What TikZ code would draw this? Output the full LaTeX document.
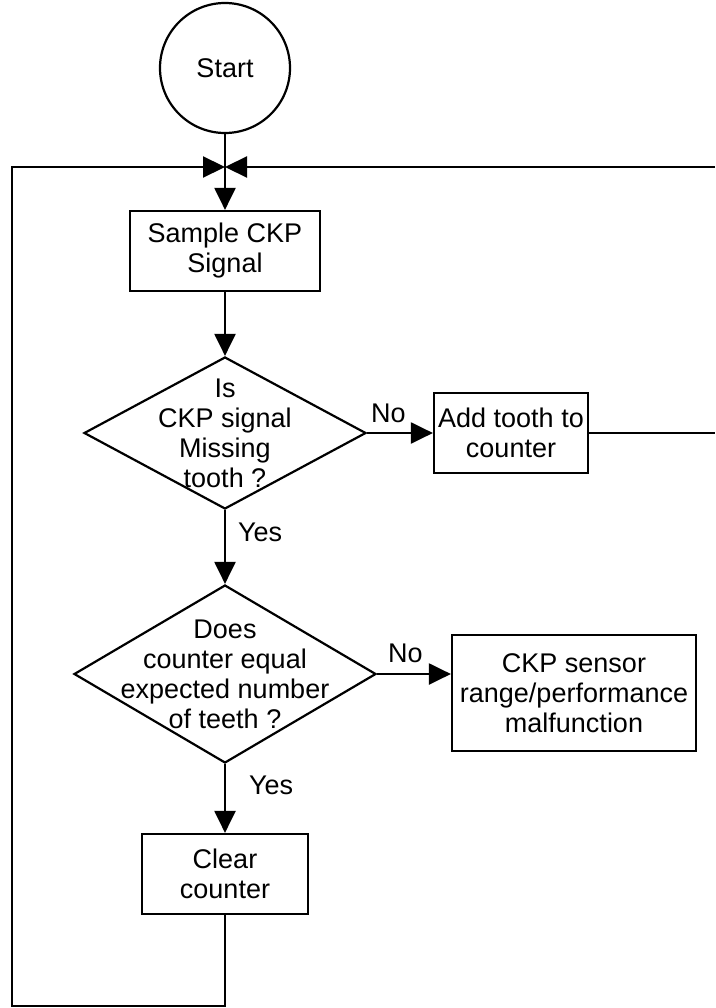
\documentclass[tikz,border=0pt]{standalone}
\usepackage{fontspec}
\setmainfont{Liberation Sans}
\usetikzlibrary{shapes.geometric,arrows.meta}

\begin{document}
\begin{tikzpicture}[x=1pt, y=-1pt, line width=2.2pt,
		font=\fontsize{27}{30}\selectfont,
		block/.style={draw, rectangle, minimum height=80pt, inner sep=0pt, align=center},
		decision/.style={draw, diamond, inner sep=-40pt, align=center},
		lbl/.style={anchor=west, inner sep=0pt},
		arr/.style={-{Triangle[length=22pt, width=21pt]}}]
			\useasboundingbox (0, 0) rectangle (715, 1008);

			\draw (225, 68) 	node[draw, circle, minimum size=130pt, inner sep=0pt] 	(start) 	{Start};
			\draw (225, 251) 	node[block, minimum width=190pt] 	(sample) 	{Sample CKP\\Signal};
			\draw (225, 433) 	node[decision, minimum width=282pt, minimum height=152pt] 	(missing) 	{Is\\CKP signal\\Missing\\tooth ?};
			\draw (511, 433) 	node[block, minimum width=154pt] 	(addtooth) 	{Add tooth to\\counter};
			\draw (225, 674) 	node[decision, minimum width=302pt, minimum height=178pt] 	(equal) 	{Does\\counter equal\\expected number\\of teeth ?};
			\draw (574, 693) 	node[block, minimum width=244pt, minimum height=116pt] 	(fault) 	{CKP sensor\\range/performance\\malfunction};
			\draw (225, 874) 	node[block, minimum width=166pt] 	(clear) 	{Clear\\counter};

			\draw (370, 413) 	node[lbl] 	(no1) 		{No};
			\draw (237, 532) 	node[lbl] 	(yes1) 		{Yes};
			\draw (387, 653) 	node[lbl] 	(no2) 		{No};
			\draw (248, 785) 	node[lbl] 	(yes2) 		{Yes};

			\coordinate (join) 	at (225, 167);
			\coordinate (topL) 	at (12, 167);
			\coordinate (topR) 	at (715, 167);
			\coordinate (loopR) at (715, 433);
			\coordinate (botL) 	at (12, 1006);

			\draw[arr] (start) -- (sample);
			\draw[arr] (topR) -- (join);
			\draw[arr] (sample) -- (missing);
			\draw[arr] (missing) -- (addtooth);
			\draw (addtooth) -- (loopR);
			\draw[arr] (missing) -- (equal);
			\draw[arr] (equal) -- (equal -| fault.west);
			\draw[arr] (equal) -- (clear);
			\draw[arr] (clear) |- (botL) -- (topL) -- (join);
		\end{tikzpicture}
\end{document}
